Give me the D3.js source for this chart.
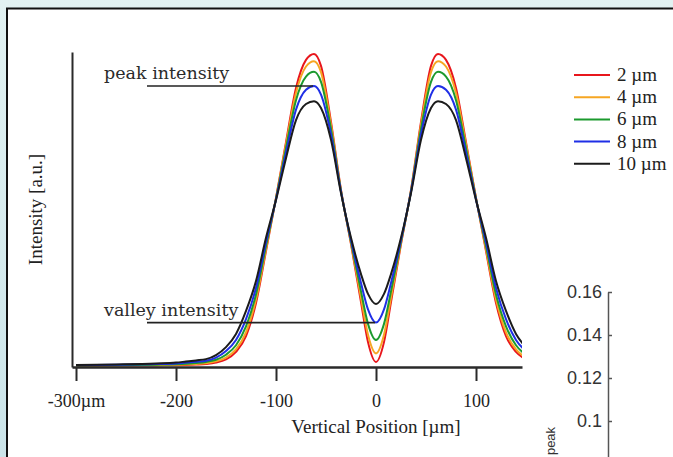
<!DOCTYPE html>
<html>
<head>
<meta charset="utf-8">
<script src="https://cdn.jsdelivr.net/npm/d3@7/dist/d3.min.js"></script>
<style>
  body { margin: 0; background: #fff; }
  svg { display: block; }
</style>
</head>
<body>
<div id="chart"></div>
<script>
// 1. DATA
const positions = [-300,-260,-220,-200,-190,-180,-170,-160,-150,-140,-130,-120,-110,-100,-90,-80,-70,-62,-55,-45,-35,-25,-15,-8,0,8,15,25,35,45,55,62,70,80,90,100,110,120,130,140,150]

const width2um = [0.38,0.44,0.51,0.57,0.63,0.76,0.95,1.4,2.4,4.8,9.8,20.3,36.8,53.7,71.4,88.6,97.5,99.4,95.6,77.8,56.2,39.0,20.6,7.9,1.6,7.9,20.6,39.0,56.2,77.8,95.6,99.4,97.5,88.6,71.4,53.7,36.8,20.3,9.8,4.8,2.4]
const width4um = [0.41,0.51,0.60,0.70,0.79,0.95,1.2,1.8,3.0,5.6,11.0,21.4,37.4,53.6,70.7,87.0,95.4,97.1,93.6,76.9,56.0,39.3,22.0,10.2,4.3,10.2,22.0,39.3,56.0,76.9,93.6,97.1,95.4,87.0,70.7,53.6,37.4,21.4,11.0,5.6,3.0]
const width6um = [0.48,0.57,0.73,0.89,1.05,1.3,1.6,2.3,3.9,6.9,12.9,23.0,38.4,53.4,69.5,84.7,92.2,93.7,90.5,75.6,55.8,39.8,24.0,13.7,8.6,13.7,24.0,39.8,55.8,75.6,90.5,93.7,92.2,84.7,69.5,53.4,38.4,23.0,12.9,6.9,3.9]
const width8um = [0.54,0.68,0.92,1.14,1.4,1.65,2.0,3.0,5.1,8.6,15.2,25.1,39.6,53.2,68.0,81.7,88.0,89.2,86.5,73.9,55.6,40.3,26.7,18.3,14.1,18.3,26.7,40.3,55.6,73.9,86.5,89.2,88.0,81.7,68.0,53.2,39.6,25.1,15.2,8.6,5.1]
const width10um = [0.63,0.8,1.1,1.4,1.75,2.1,2.5,3.8,6.3,10.5,17.8,27.3,41.0,53.0,66.3,78.4,83.5,84.4,82.2,72.1,55.2,41.0,29.5,23.2,20.0,23.2,29.5,41.0,55.2,72.1,82.2,84.4,83.5,78.4,66.3,53.0,41.0,27.3,17.8,10.5,6.3]

const seriesLabels = ["2 µm", "4 µm", "6 µm", "8 µm", "10 µm"]
const seriesColors = ["#e8161c", "#f6a623", "#1c9a2e", "#1f2fe6", "#1b1b1b"]
const seriesValues = [width2um, width4um, width6um, width8um, width10um]

const xTicks = [-300, -200, -100, 0, 100]
const xTickLabels = ["-300µm", "-200", "-100", "0", "100"]

// annotations sit on the 8 µm peak / valley
const annotations = [
    {text: "peak intensity", from: -229, to: -63, level: 89.2},
    {text: "valley intensity", from: -229, to: -1, level: 14.1}
]

// partial inset chart on the right edge
const insetTicks = [0.16, 0.14, 0.12, 0.1]

// 2. DIMENSIONS
let dimensions = {
    width: 673,
    height: 457,
    margin: {top: 52, right: 151, bottom: 90, left: 72}
}
dimensions.boundedWidth = dimensions.width - dimensions.margin.left - dimensions.margin.right
dimensions.boundedHeight = dimensions.height - dimensions.margin.top - dimensions.margin.bottom

// 3. DRAW CANVAS
const wrapper = d3.select("#chart")
    .append("svg")
    .attr("width", dimensions.width)
    .attr("height", dimensions.height)

const defs = wrapper.append("defs")
const grad = defs.append("linearGradient")
    .attr("id", "bg")
    .attr("x1", 0).attr("y1", 0).attr("x2", 0).attr("y2", 1)
grad.append("stop").attr("offset", "0%").attr("stop-color", "#e2f2f2")
grad.append("stop").attr("offset", "100%").attr("stop-color", "#cbe4e9")

defs.append("clipPath")
    .attr("id", "plot-clip")
    .append("rect")
    .attr("x", 0)
    .attr("y", -20)
    .attr("width", dimensions.boundedWidth)
    .attr("height", dimensions.boundedHeight + 20)

wrapper.append("rect")
    .attr("width", dimensions.width)
    .attr("height", dimensions.height)
    .attr("fill", "url(#bg)")

wrapper.append("rect")
    .attr("x", 7)
    .attr("y", 8.5)
    .attr("width", 720)
    .attr("height", 500)
    .attr("fill", "#ffffff")
    .attr("stroke", "#111")
    .attr("stroke-width", 2)

const bounds = wrapper.append("g")
    .attr("transform", `translate(${dimensions.margin.left},${dimensions.margin.top})`)

// 4. CREATE SCALES
const xScale = d3.scaleLinear()
    .domain([-304, 146])
    .range([0, dimensions.boundedWidth])

const yScale = d3.scaleLinear()
    .domain([0, 100])
    .range([dimensions.boundedHeight, 0])

// 5. DRAW DATA
const lineGenerator = d3.line()
    .x((d, i) => xScale(positions[i]))
    .y(d => yScale(d))
    .curve(d3.curveMonotoneX)

bounds.append("g")
    .attr("clip-path", "url(#plot-clip)")
    .selectAll("path")
    .data(seriesValues)
    .join("path")
    .attr("d", d => lineGenerator(d))
    .attr("fill", "none")
    .attr("stroke", (d, i) => seriesColors[i])
    .attr("stroke-width", 2)

// 6. DRAW PERIPHERALS
const xAxisGenerator = d3.axisBottom(xScale)
    .tickValues(xTicks)
    .tickFormat((d, i) => xTickLabels[i])
    .tickSizeInner(14)
    .tickSizeOuter(0)
    .tickPadding(13)

const xAxis = bounds.append("g")
    .attr("transform", `translate(0,${dimensions.boundedHeight})`)
    .call(xAxisGenerator)
xAxis.select(".domain").attr("stroke", "#2a2a2a").attr("stroke-width", 2.5)
xAxis.selectAll(".tick line").attr("stroke", "#2a2a2a").attr("stroke-width", 2)
xAxis.selectAll(".tick text")
    .attr("fill", "#222")
    .style("font-family", "'Liberation Serif', 'Times New Roman', serif")
    .style("font-size", "18px")

xAxis.append("text")
    .attr("x", xScale(0))
    .attr("y", 66)
    .attr("fill", "#222")
    .style("font-family", "'Liberation Serif', 'Times New Roman', serif")
    .style("font-size", "19px")
    .style("text-anchor", "middle")
    .text("Vertical Position [µm]")

const yAxisGenerator = d3.axisLeft(yScale)
    .tickValues([])
    .tickSizeOuter(0)

const yAxis = bounds.append("g")
    .call(yAxisGenerator)
yAxis.select(".domain").attr("stroke", "#2a2a2a").attr("stroke-width", 2)

yAxis.append("text")
    .attr("transform", `translate(-30,${dimensions.boundedHeight / 2 - 0}) rotate(-90)`)
    .attr("fill", "#222")
    .style("font-family", "'Liberation Serif', 'Times New Roman', serif")
    .style("font-size", "19px")
    .style("text-anchor", "middle")
    .text("Intensity [a.u.]")

// annotations
const notes = bounds.selectAll(".note")
    .data(annotations)
    .join("g")
    .attr("class", "note")
notes.append("line")
    .attr("x1", d => xScale(d.from))
    .attr("x2", d => xScale(d.to))
    .attr("y1", d => yScale(d.level))
    .attr("y2", d => yScale(d.level))
    .attr("stroke", "#222")
    .attr("stroke-width", 1.6)
notes.append("text")
    .attr("x", xScale(-272))
    .attr("y", d => yScale(d.level) - 7)
    .attr("fill", "#2b2b2b")
    .style("font-family", "'DejaVu Serif', serif")
    .style("font-size", "17.5px")
    .text(d => d.text)

// legend
const legendGroup = wrapper.append("g")
    .attr("transform", "translate(574,75)")
legendGroup.selectAll("line")
    .data(seriesLabels)
    .join("line")
    .attr("x1", 0)
    .attr("x2", 36)
    .attr("y1", (d, i) => i * 22.2)
    .attr("y2", (d, i) => i * 22.2)
    .attr("stroke", (d, i) => seriesColors[i])
    .attr("stroke-width", 2)
legendGroup.selectAll("text")
    .data(seriesLabels)
    .join("text")
    .attr("x", 43)
    .attr("y", (d, i) => i * 22.2 + 6)
    .attr("fill", "#222")
    .style("font-family", "'Liberation Serif', 'Times New Roman', serif")
    .style("font-size", "19px")
    .text(d => d)

// partial inset axis, cut off by the frame
const insetScale = d3.scaleLinear()
    .domain([0.16, 0.08])
    .range([292, 464])

const insetAxis = wrapper.append("g")
    .attr("transform", "translate(608,0)")
    .call(d3.axisLeft(insetScale)
        .tickValues(insetTicks)
        .tickFormat(d => d3.format("")(d))
        .tickSizeInner(-4)
        .tickSizeOuter(0)
        .tickPadding(6))
insetAxis.select(".domain").attr("stroke", "#555").attr("stroke-width", 1.5)
insetAxis.selectAll(".tick line").attr("stroke", "#555").attr("stroke-width", 1.5)
insetAxis.selectAll(".tick text")
    .attr("fill", "#333")
    .style("font-family", "'Liberation Sans', Arial, sans-serif")
    .style("font-size", "18px")

wrapper.append("text")
    .attr("transform", "translate(555,441) rotate(-90)")
    .attr("fill", "#333")
    .style("font-family", "'Liberation Sans', Arial, sans-serif")
    .style("font-size", "13px")
    .style("text-anchor", "middle")
    .text("peak")
</script>
</body>
</html>
